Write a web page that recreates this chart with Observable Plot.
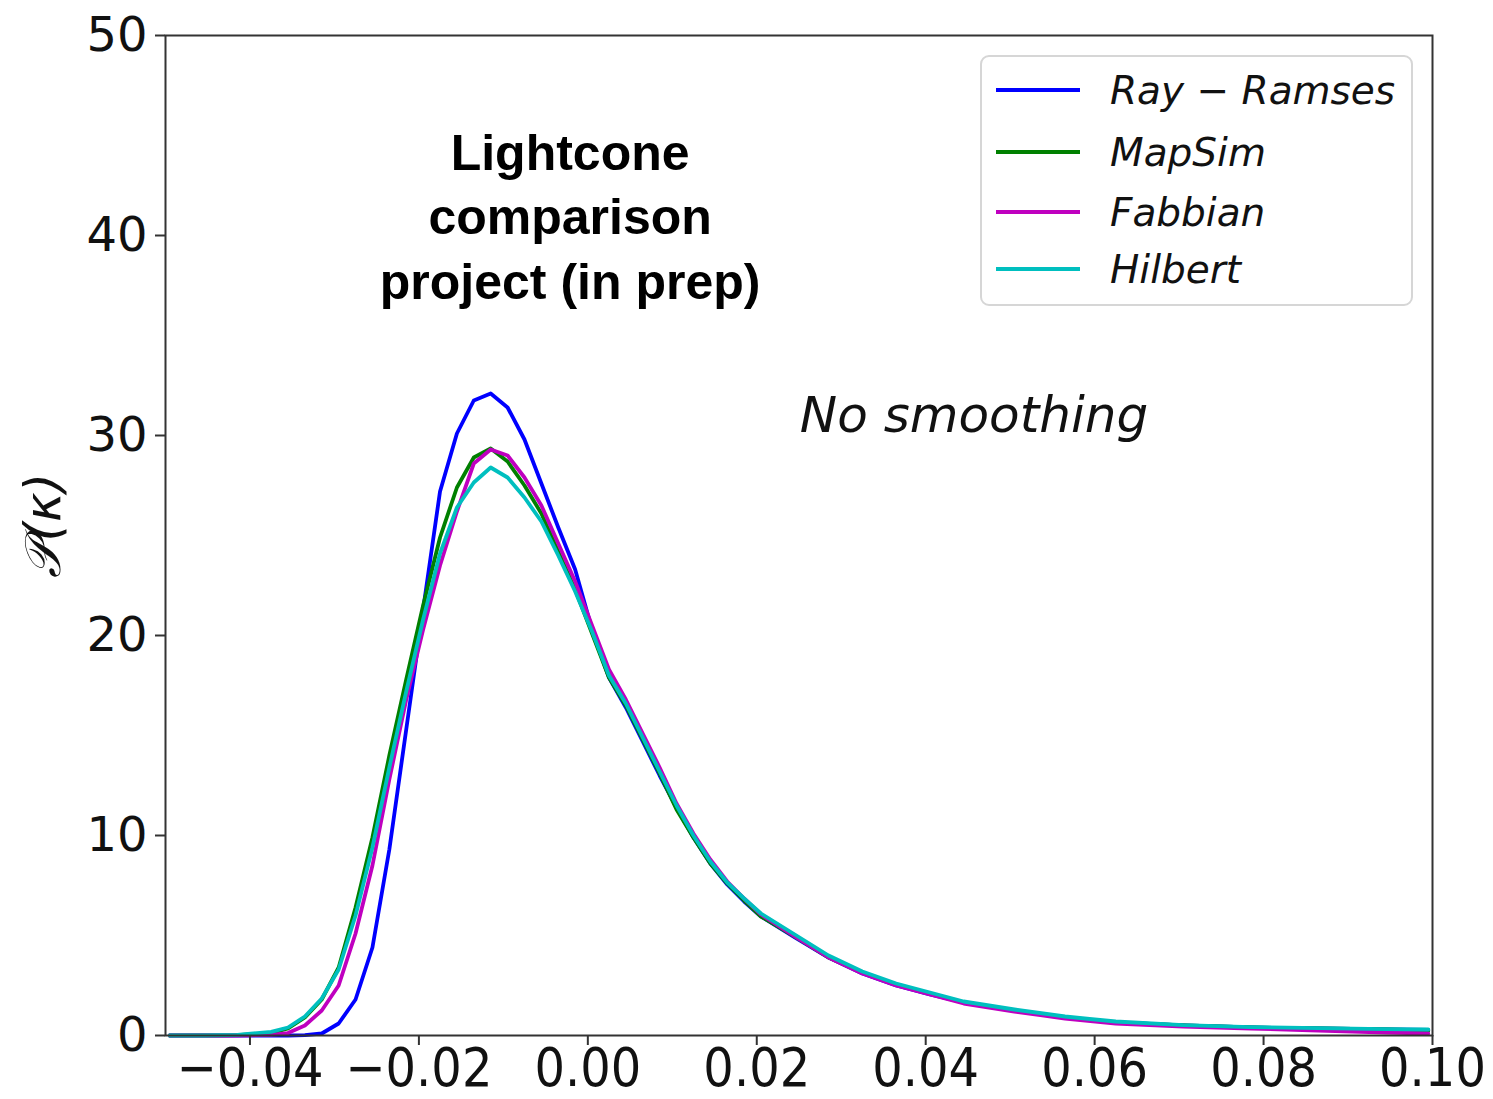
<!DOCTYPE html>
<html>
<head>
<meta charset="utf-8">
<script src="https://cdn.jsdelivr.net/npm/d3@7"></script>
<script src="https://cdn.jsdelivr.net/npm/@observablehq/plot@0.6"></script>
<style>
  html, body { margin: 0; padding: 0; background: #fff; }
  #chart { position: relative; width: 1493px; height: 1099px; }
  #legend {
    position: absolute; left: 980px; top: 55px; width: 433px; height: 251px;
    box-sizing: border-box; border: 2px solid #d6d6d6; border-radius: 9px; background: rgba(255,255,255,0.85);
    font-family: "DejaVu Sans", sans-serif; font-style: italic; font-size: 39px; color: #111;
  }
  #legend .row { position: absolute; left: 14px; height: 40px; display: flex; align-items: center; }
  #legend .swatch { width: 84px; height: 4px; margin-right: 30px; }
</style>
</head>
<body>
<div id="chart"></div>
<script>
// Convergence κ bin centres shared by every simulation
const kappa = [-0.0495, -0.0455, -0.0415, -0.0375, -0.0355, -0.0335, -0.0315, -0.0295, -0.0275, -0.0255,
  -0.0235, -0.0215, -0.0195, -0.0175, -0.0155, -0.0135, -0.0115, -0.0095, -0.0075, -0.0055,
  -0.0035, -0.0015, 0.0005, 0.0025, 0.0045, 0.0065, 0.0085, 0.0105, 0.0125, 0.0145,
  0.0165, 0.0185, 0.0205, 0.0245, 0.0285, 0.0325, 0.0365, 0.0405, 0.0445, 0.0505,
  0.0565, 0.0625, 0.0705, 0.0785, 0.0865, 0.0945, 0.0995];

// PDF P(κ) per simulation
const rayRamses = [0, 0, 0, 0, 0, 0.02, 0.1, 0.6, 1.8, 4.4,
  9.3, 15.3, 21.3, 27.2, 30.1, 31.75, 32.1, 31.4, 29.8, 27.6,
  25.4, 23.3, 20.3, 17.9, 16.4, 14.7, 13.0, 11.4, 9.9, 8.6,
  7.55, 6.7, 5.95, 4.9, 3.9, 3.1, 2.5, 2.05, 1.65, 1.25,
  0.9, 0.65, 0.5, 0.4, 0.35, 0.3, 0.28];
const mapSim = [0, 0, 0.02, 0.12, 0.35, 0.9, 1.8, 3.4, 6.4, 9.9,
  14.0, 17.8, 21.5, 24.9, 27.4, 28.9, 29.35, 28.7, 27.5, 26.1,
  24.2, 22.3, 20.1, 17.9, 16.5, 14.8, 13.1, 11.3, 9.9, 8.6,
  7.6, 6.75, 5.95, 4.95, 3.9, 3.15, 2.55, 2.1, 1.65, 1.25,
  0.9, 0.65, 0.5, 0.4, 0.35, 0.3, 0.25];
const fabbian = [0, 0, 0, 0.03, 0.12, 0.5, 1.25, 2.5, 5.1, 8.5,
  12.8, 16.8, 20.3, 23.5, 26.2, 28.6, 29.3, 29.0, 27.9, 26.5,
  24.6, 22.7, 20.5, 18.3, 16.8, 15.1, 13.4, 11.6, 10.1, 8.8,
  7.7, 6.85, 6.05, 4.95, 3.9, 3.1, 2.5, 2.05, 1.6, 1.2,
  0.85, 0.6, 0.45, 0.35, 0.25, 0.15, 0.1];
const hilbert = [0, 0, 0.03, 0.18, 0.4, 0.95, 1.85, 3.3, 6.0, 9.4,
  13.4, 17.2, 20.8, 24.1, 26.4, 27.65, 28.4, 27.9, 26.9, 25.7,
  24.0, 22.2, 20.2, 18.0, 16.6, 14.9, 13.2, 11.5, 10.0, 8.7,
  7.65, 6.85, 6.1, 5.05, 4.0, 3.2, 2.6, 2.15, 1.7, 1.3,
  0.95, 0.7, 0.52, 0.42, 0.37, 0.32, 0.3];

const seriesNames = ["Ray − Ramses", "MapSim", "Fabbian", "Hilbert"];
const seriesValues = [rayRamses, mapSim, fabbian, hilbert];
const seriesColors = ["#0000ff", "#008000", "#bf00bf", "#00bfbf"];

const xTicks = [-0.04, -0.02, 0.00, 0.02, 0.04, 0.06, 0.08, 0.10];
const yTicks = [0, 10, 20, 30, 40, 50];

const rows = seriesNames.flatMap((name, i) =>
  kappa.map((k, j) => ({name, k, p: seriesValues[i][j]})));

const fmt = d3.format(".2f");

const chart = Plot.plot({
  width: 1493,
  height: 1099,
  marginLeft: 165,
  marginRight: 61,
  marginTop: 35,
  marginBottom: 64,
  style: {fontFamily: "DejaVu Sans, sans-serif", fontSize: "48px", color: "#111", background: "#fff"},
  x: {domain: [-0.05, 0.10]},
  y: {domain: [0, 50]},
  color: {domain: seriesNames, range: seriesColors},
  marks: [
    Plot.line(rows, {x: "k", y: "p", z: "name", stroke: "name", strokeWidth: 3.8}),
    Plot.frame({stroke: "#333", strokeWidth: 2}),
    Plot.axisX({ticks: xTicks, tickFormat: fmt, tickSize: 10, tickPadding: 2, label: null, stroke: "#333", strokeWidth: 2}),
    Plot.axisY({ticks: yTicks, tickSize: 10, tickPadding: 8, label: null, stroke: "#333", strokeWidth: 2}),
    Plot.text(["𝒫(κ)"], {frameAnchor: "left", rotate: -90, dx: -122, dy: 42, fontSize: 50, fontStyle: "italic", fill: "#111"}),
    Plot.text(["Lightcone\ncomparison\nproject (in prep)"], {
      x: -0.0021, y: 41.1, text: d => d, textAnchor: "middle", lineAnchor: "middle", lineHeight: 1.29,
      fontFamily: "Liberation Sans, Arial, sans-serif", fontWeight: "bold", fontSize: 50, fill: "#000"
    }),
    Plot.text(["No smoothing"], {
      x: 0.0251, y: 31.0, text: d => d, textAnchor: "start", lineAnchor: "middle",
      fontStyle: "italic", fontSize: 50, fill: "#111"
    })
  ]
});

// Tick labels along κ are drawn a little taller than wide
d3.select(chart).selectAll("g[aria-label='x-axis tick label'] text").each(function() {
  const t = d3.select(this).attr("transform") || "";
  d3.select(this).attr("transform", t + " scale(1,1.12)");
});

const host = document.getElementById("chart");
host.appendChild(chart);

// Legend box in the upper right of the axes
const legend = document.createElement("div");
legend.id = "legend";
const rowTops = [13, 75, 135, 192];
seriesNames.forEach((name, i) => {
  const row = document.createElement("div");
  row.className = "row";
  row.style.top = rowTops[i] + "px";
  const sw = document.createElement("div");
  sw.className = "swatch";
  sw.style.background = seriesColors[i];
  const label = document.createElement("span");
  label.textContent = name;
  row.appendChild(sw);
  row.appendChild(label);
  legend.appendChild(row);
});
host.appendChild(legend);
</script>
</body>
</html>
